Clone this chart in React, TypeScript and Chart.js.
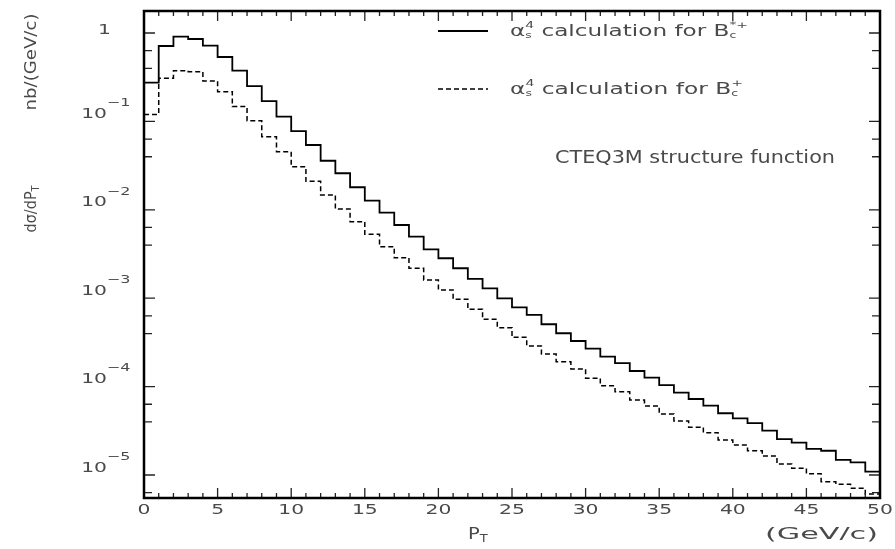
import React, { useEffect, useRef } from 'react';
import { Chart, registerables } from 'chart.js';

Chart.register(...registerables);

// P_T bin edges (GeV/c)
const ptBinEdges = [
  0, 1, 2, 3, 4, 5, 6, 7, 8, 9, 10, 11, 12, 13, 14, 15, 16, 17, 18, 19, 20,
  21, 22, 23, 24, 25, 26, 27, 28, 29, 30, 31, 32, 33, 34, 35, 36, 37, 38, 39, 40,
  41, 42, 43, 44, 45, 46, 47, 48, 49, 50,
];

// dσ/dP_T (nb/(GeV/c)) for Bc*+ (solid)
const bcStarPlus = [
  0.274, 0.713, 0.908, 0.855, 0.718, 0.535, 0.375, 0.251, 0.17, 0.113,
  0.0778, 0.0541, 0.0359, 0.0259, 0.018, 0.0127, 0.00927, 0.00673, 0.00496, 0.00357,
  0.00283, 0.00218, 0.00165, 0.00129, 0.000997, 0.000789, 0.000646, 0.000507, 0.000401, 0.000328,
  0.000269, 0.000218, 0.000184, 0.00015, 0.000126, 0.000104, 8.53e-5, 7.24e-5, 6.08e-5, 4.99e-5,
  4.36e-5, 3.87e-5, 3.17e-5, 2.55e-5, 2.32e-5, 1.97e-5, 1.88e-5, 1.48e-5, 1.39e-5, 1.09e-5,
];

// dσ/dP_T (nb/(GeV/c)) for Bc+ (dashed)
const bcPlus = [
  0.12, 0.307, 0.375, 0.365, 0.286, 0.217, 0.147, 0.102, 0.0671, 0.0454,
  0.0307, 0.021, 0.0147, 0.0102, 0.00733, 0.00528, 0.00383, 0.00287, 0.00218, 0.00161,
  0.00124, 0.000972, 0.000749, 0.000577, 0.000464, 0.000361, 0.000288, 0.000234, 0.000191, 0.000158,
  0.000124, 0.000102, 8.75e-5, 7.05e-5, 6.04e-5, 4.9e-5, 4.08e-5, 3.47e-5, 3.01e-5, 2.49e-5,
  2.18e-5, 1.88e-5, 1.64e-5, 1.33e-5, 1.19e-5, 1.03e-5, 8.4e-6, 7.85e-6, 7.08e-6, 6.1e-6,
];

const xTickLabels = ['0', '5', '10', '15', '20', '25', '30', '35', '40', '45', '50'];
const yDecadeExponents = [0, -1, -2, -3, -4, -5];

const X_MIN = 0;
const X_MAX = 50;
const Y_MIN = 5.49e-6;
const Y_MAX = 1.774;

const FONT = '"DejaVu Sans"';
const TEXT_COLOR = '#4a4a4a';

type Seg = { t: string; size: number; dy?: number; stack?: boolean };

function richWidth(ctx: CanvasRenderingContext2D, segs: Seg[]) {
  let w = 0;
  for (const s of segs) {
    ctx.font = `${s.size}px ${FONT}`;
    if (!s.stack) w += ctx.measureText(s.t).width;
  }
  return w;
}

function drawRich(
  ctx: CanvasRenderingContext2D,
  segs: Seg[],
  x: number,
  y: number,
  opts: { sx?: number; width?: number; align?: 'left' | 'center' | 'right'; rotate?: number }
) {
  const w = richWidth(ctx, segs);
  const sx = opts.width ? opts.width / w : opts.sx || 1;
  const align = opts.align || 'left';
  ctx.save();
  ctx.translate(x, y);
  if (opts.rotate) ctx.rotate(opts.rotate);
  const x0 = align === 'left' ? 0 : align === 'center' ? (-w * sx) / 2 : -w * sx;
  ctx.translate(x0, 0);
  ctx.scale(sx, 1);
  ctx.textBaseline = 'middle';
  ctx.textAlign = 'left';
  ctx.fillStyle = TEXT_COLOR;
  let cx = 0;
  for (const s of segs) {
    ctx.font = `${s.size}px ${FONT}`;
    ctx.fillText(s.t, cx, s.dy || 0);
    if (!s.stack) cx += ctx.measureText(s.t).width;
  }
  ctx.restore();
}

const decorPlugin = {
  id: 'decor',
  afterDatasetsDraw(chart: any) {
    const { ctx, chartArea: a, scales } = chart;
    const xs = scales.x;
    const ys = scales.y;
    ctx.save();

    // inward ticks on x (bottom & top)
    ctx.strokeStyle = '#222';
    ctx.lineWidth = 1.3;
    for (let v = X_MIN; v <= X_MAX; v++) {
      const px = xs.getPixelForValue(v);
      const len = v % 5 === 0 ? 10 : 5;
      ctx.beginPath();
      ctx.moveTo(px, a.bottom);
      ctx.lineTo(px, a.bottom - len);
      ctx.moveTo(px, a.top);
      ctx.lineTo(px, a.top + len);
      ctx.stroke();
    }
    // inward ticks on y (left & right)
    for (let n = 1; n >= -6; n--) {
      for (const off of [0, 0.2, 0.4]) {
        const val = Math.pow(10, n - off);
        if (val < Y_MIN || val > Y_MAX) continue;
        const py = ys.getPixelForValue(val);
        const len = off === 0 ? 11 : 8;
        ctx.beginPath();
        ctx.moveTo(a.left, py);
        ctx.lineTo(a.left + len, py);
        ctx.moveTo(a.right, py);
        ctx.lineTo(a.right - len, py);
        ctx.stroke();
      }
    }

    // frame
    ctx.strokeStyle = '#000';
    ctx.lineWidth = 2.5;
    ctx.strokeRect(a.left, a.top, a.right - a.left, a.bottom - a.top);

    // x tick labels
    for (const lab of xTickLabels) {
      const px = xs.getPixelForValue(parseFloat(lab));
      drawRich(ctx, [{ t: lab, size: 14 }], px, a.bottom + 12, { sx: 1.45, align: 'center' });
    }
    // y tick labels
    for (const e of yDecadeExponents) {
      const py = ys.getPixelForValue(Math.pow(10, e));
      if (e === 0) {
        drawRich(ctx, [{ t: '1', size: 14 }], 111, py - 3, { sx: 1.45, align: 'right' });
      } else {
        drawRich(ctx, [{ t: '10', size: 14 }], 107, py - 7, { sx: 1.45, align: 'right' });
        drawRich(ctx, [{ t: '\u2212' + String(-e), size: 11 }], 107, py - 18, { sx: 1.45, align: 'left' });
      }
    }

    // axis titles
    drawRich(ctx, [{ t: 'P', size: 15 }, { t: 'T', size: 10, dy: 4 }], 468, 535, { sx: 1.3, align: 'left' });
    drawRich(ctx, [{ t: '(GeV/c)', size: 15 }], 765, 535, { width: 113, align: 'left' });
    drawRich(ctx, [{ t: 'nb/(GeV/c)', size: 15 }], 32, 62, { width: 97, align: 'center', rotate: -Math.PI / 2 });
    drawRich(ctx, [{ t: 'd\u03c3/dP', size: 15 }, { t: 'T', size: 10, dy: 4 }], 32, 209, {
      width: 47,
      align: 'center',
      rotate: -Math.PI / 2,
    });

    // legend
    const ds = chart.data.datasets;
    const legendRows = [
      { y: 31, ds: ds[0], sup: '*+', width: 238 },
      { y: 89, ds: ds[1], sup: '+', width: 233 },
    ];
    for (const r of legendRows) {
      ctx.save();
      ctx.strokeStyle = r.ds.borderColor;
      ctx.lineWidth = r.ds.borderWidth;
      ctx.setLineDash(r.ds.borderDash || []);
      ctx.beginPath();
      ctx.moveTo(438, r.y);
      ctx.lineTo(488, r.y);
      ctx.stroke();
      ctx.restore();
      drawRich(
        ctx,
        [
          { t: '\u03b1', size: 15 },
          { t: 's', size: 8, dy: 4, stack: true },
          { t: '4', size: 9, dy: -6 },
          { t: ' calculation for B', size: 15 },
          { t: 'c', size: 8, dy: 4, stack: true },
          { t: r.sup, size: 9, dy: -6 },
        ],
        510,
        r.y + 1,
        { width: r.width, align: 'left' }
      );
    }
    drawRich(ctx, [{ t: 'CTEQ3M structure function', size: 17 }], 555, 159, { width: 280, align: 'left' });

    ctx.restore();
  },
};

function toPoints(values: number[]) {
  const pts = values.map((v, i) => ({ x: ptBinEdges[i], y: v }));
  pts.push({ x: ptBinEdges[values.length], y: values[values.length - 1] });
  return pts;
}

export default function App() {
  const canvasRef = useRef<HTMLCanvasElement | null>(null);

  useEffect(() => {
    if (!canvasRef.current) return;
    const chart = new Chart(canvasRef.current, {
      type: 'line',
      data: {
        datasets: [
          {
            label: 'αs4 calculation for Bc*+',
            data: toPoints(bcStarPlus),
            borderColor: '#000',
            borderWidth: 1.8,
            pointRadius: 0,
            fill: false,
            stepped: true,
          },
          {
            label: 'αs4 calculation for Bc+',
            data: toPoints(bcPlus),
            borderColor: '#000',
            borderWidth: 1.5,
            borderDash: [5, 3],
            pointRadius: 0,
            fill: false,
            stepped: true,
          },
        ],
      },
      options: {
        animation: false,
        responsive: true,
        maintainAspectRatio: false,
        events: [],
        layout: { padding: { top: 11, right: 15, left: 0, bottom: 0 } },
        plugins: { legend: { display: false }, tooltip: { enabled: false }, title: { display: false } },
        scales: {
          x: {
            type: 'linear',
            min: X_MIN,
            max: X_MAX,
            ticks: { display: false },
            grid: { display: false },
            border: { display: false },
            afterFit: (s: any) => {
              s.height = 51;
            },
          },
          y: {
            type: 'logarithmic',
            min: Y_MIN,
            max: Y_MAX,
            ticks: { display: false },
            grid: { display: false },
            border: { display: false },
            afterFit: (s: any) => {
              s.width = 144;
            },
          },
        },
      },
      plugins: [decorPlugin],
    });
    return () => chart.destroy();
  }, []);

  return (
    <div style={{ position: 'fixed', left: 0, top: 0, width: 895, height: 549, background: '#fff' }}>
      <canvas ref={canvasRef} style={{ display: 'block' }} />
    </div>
  );
}
